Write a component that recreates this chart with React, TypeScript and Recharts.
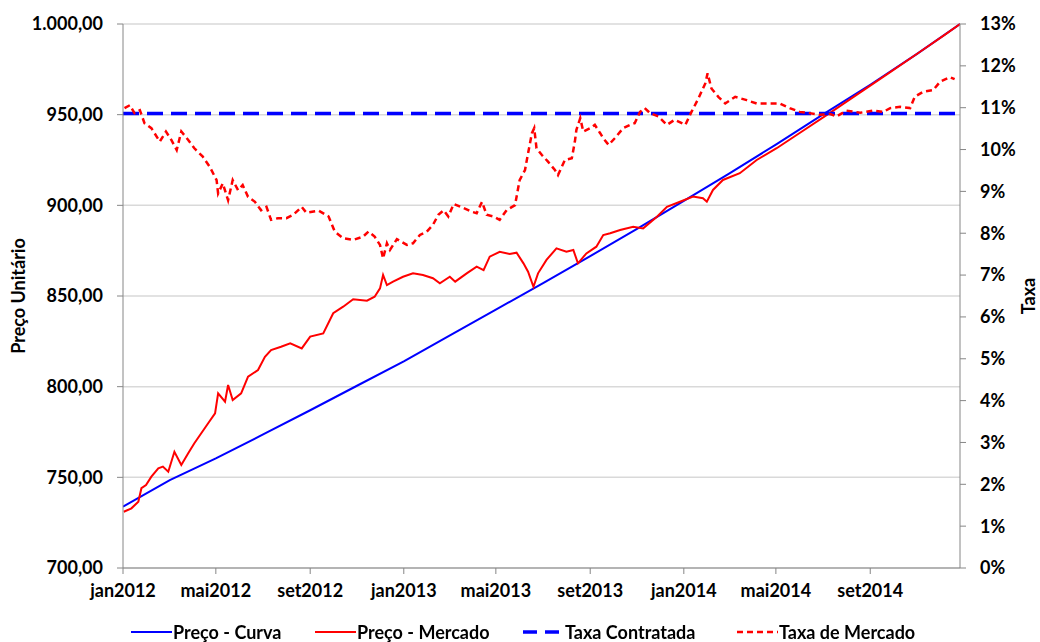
import React from 'react';
import { LineChart, Line, XAxis, YAxis, CartesianGrid, Legend } from 'recharts';

// days counted from 1 jan 2012
const tickDias = [0, 121, 244, 366, 486, 609, 731, 851, 974];
const tickMeses = ['jan2012', 'mai2012', 'set2012', 'jan2013', 'mai2013', 'set2013', 'jan2014', 'mai2014', 'set2014'];

const precoTicks = [700, 750, 800, 850, 900, 950, 1000];
const taxaTicks = [0, 1, 2, 3, 4, 5, 6, 7, 8, 9, 10, 11, 12, 13];

const curvaDias = [0, 61, 121, 182, 244, 305, 366, 425, 486, 547, 609, 670, 731, 790, 851, 912, 974, 1035, 1091];
const curvaPreco = [733.8, 748.5, 760.5, 773.5, 787, 800.5, 814, 828, 842.5, 857, 872, 887, 902.5, 917.5, 933.5, 950, 966.5, 983.5, 1000];

const mercadoDias = [
  1, 11, 20, 24, 30, 37, 46, 52, 59, 67, 76, 85, 93, 102, 111, 120, 124, 133, 137, 143,
  154, 163, 176, 185, 193, 206, 218, 233, 244, 261, 274, 287, 300, 318, 328, 335, 339, 344, 352, 365,
  378, 391, 404, 413, 426, 433, 448, 461, 470, 478, 491, 504, 513, 522, 528, 535, 541, 552, 565, 578,
  587, 593, 604, 617, 626, 635, 648, 665, 678, 696, 709, 726, 743, 756, 761, 769, 782, 804, 826, 852,
  882, 922, 961, 1000, 1039, 1071, 1091,
];
const mercadoPreco = [
  731.0, 732.9, 736.6, 744.0, 745.8, 750.4, 755.0, 755.9, 753.1, 764.1, 756.8, 763.3, 768.8, 774.3, 779.8, 785.3, 796.3, 791.7, 800.9, 792.6,
  796.3, 805.5, 809.2, 816.5, 820.2, 822.0, 823.9, 821.1, 827.6, 829.4, 840.5, 844.1, 848.2, 847.4, 849.6, 854.2, 861.6, 856.0, 857.9, 860.6,
  862.5, 861.6, 859.8, 857.0, 860.6, 857.9, 862.5, 866.2, 864.3, 871.7, 874.4, 873.2, 873.9, 868.0, 863.4, 855.1, 862.5, 869.9, 876.3, 874.4,
  875.4, 868.0, 873.5, 877.2, 883.6, 884.6, 886.4, 888.2, 887.3, 893.7, 899.2, 902.0, 904.8, 903.9, 902.0, 908.5, 914.0, 917.7, 925.0, 931.5,
  939.9, 951.1, 962.3, 973.5, 984.7, 994.0, 1000,
];

const taxaDias = [
  2, 9, 15, 22, 28, 37, 48, 56, 63, 70, 76, 85, 93, 104, 113, 122, 124, 130, 137, 143,
  150, 156, 163, 172, 180, 187, 193, 202, 213, 222, 233, 239, 255, 268, 276, 287, 300, 313, 320, 328,
  335, 339, 344, 348, 357, 370, 378, 387, 396, 404, 411, 418, 424, 431, 444, 455, 461, 468, 474, 483,
  491, 500, 511, 517, 524, 528, 533, 536, 539, 546, 554, 563, 567, 576, 585, 589, 591, 596, 600, 609,
  615, 622, 626, 633, 641, 652, 661, 667, 674, 680, 687, 698, 709, 719, 733, 741, 750, 759, 762, 767,
  776, 785, 798, 813, 826, 839, 856, 869, 882, 895, 908, 922, 930, 943, 961, 978, 991, 1000, 1013, 1026,
  1032, 1043, 1056, 1065, 1078, 1084,
];
const taxaMercado = [
  10.99, 11.06, 10.87, 10.94, 10.63, 10.51, 10.19, 10.43, 10.23, 9.99, 10.43, 10.23, 10.03, 9.83, 9.59, 9.27, 8.95, 9.19, 8.79, 9.27,
  9.03, 9.15, 8.87, 8.75, 8.55, 8.63, 8.32, 8.36, 8.36, 8.44, 8.63, 8.49, 8.54, 8.40, 8.04, 7.88, 7.84, 7.92, 8.04, 7.92,
  7.72, 7.40, 7.76, 7.60, 7.86, 7.72, 7.76, 7.96, 8.04, 8.20, 8.44, 8.55, 8.40, 8.70, 8.60, 8.51, 8.48, 8.75, 8.44, 8.40,
  8.32, 8.55, 8.67, 9.27, 9.51, 9.91, 10.39, 10.51, 10.03, 9.87, 9.71, 9.51, 9.39, 9.75, 9.79, 10.19, 10.47, 10.75, 10.43, 10.51,
  10.59, 10.39, 10.27, 10.11, 10.27, 10.51, 10.59, 10.63, 10.90, 10.99, 10.87, 10.79, 10.59, 10.71, 10.59, 10.90, 11.22, 11.58, 11.82, 11.46,
  11.26, 11.10, 11.26, 11.18, 11.10, 11.10, 11.10, 10.99, 10.90, 10.87, 10.83, 10.85, 10.79, 10.93, 10.88, 10.93, 10.90, 10.99, 11.02, 10.99,
  11.26, 11.38, 11.42, 11.62, 11.73, 11.68,
];

const taxaContratada = 10.86;
const contratadaDias = [0, 1091];

const curvaData = curvaDias.map((d, i) => ({ d, v: curvaPreco[i] }));
const mercadoData = mercadoDias.map((d, i) => ({ d, v: mercadoPreco[i] }));
const taxaData = taxaDias.map((d, i) => ({ d, v: taxaMercado[i] }));
const contratadaData = contratadaDias.map((d) => ({ d, v: taxaContratada }));

const FONT = 'Lato, "Open Sans", sans-serif';
const AXIS = '#868686';

const fmtPreco = (v: number) => {
  const int = Math.floor(v);
  const s = int >= 1000 ? `${Math.floor(int / 1000)}.${String(int % 1000).padStart(3, '0')}` : String(int);
  return `${s},00`;
};

const legendItems = [
  { label: 'Preço - Curva', color: '#0000ff', dash: '', width: 2, left: 131 },
  { label: 'Preço - Mercado', color: '#ff0000', dash: '', width: 2, left: 315 },
  { label: 'Taxa Contratada', color: '#0000ff', dash: '14 8', width: 3.5, left: 523 },
  { label: 'Taxa de Mercado', color: '#ff0000', dash: '6 4', width: 2.5, left: 737 },
];

const renderLegend = () => (
  <div style={{ position: 'relative', width: 1040, height: 30 }}>
    {legendItems.map((it) => (
      <div
        key={it.label}
        style={{ position: 'absolute', left: it.left, top: 10, display: 'flex', alignItems: 'center', whiteSpace: 'nowrap' }}
      >
        <svg width={41} height={10} style={{ display: 'block' }}>
          <line x1={0} y1={5} x2={41} y2={5} stroke={it.color} strokeWidth={it.width} strokeDasharray={it.dash || undefined} />
        </svg>
        <span style={{ fontFamily: FONT, fontWeight: 700, fontSize: 18, color: '#000', marginLeft: 1, lineHeight: '20px' }}>
          {it.label}
        </span>
      </div>
    ))}
  </div>
);

const tickStyle = { fill: '#000', fontSize: 18, fontWeight: 700, fontFamily: FONT };
const titleStyle = { fontFamily: FONT, fontWeight: 700, fontSize: 18, fill: '#000' };

export default function App() {
  return (
    <div style={{ position: 'fixed', left: 0, top: 0, width: 1040, height: 642, background: '#fff' }}>
      <LineChart width={1040} height={642} margin={{ top: 24, right: 0, bottom: 0, left: 0 }} style={{ fontFamily: FONT }}>
        <CartesianGrid yAxisId="preco" vertical={false} stroke="#d9d9d9" strokeWidth={1.5} />
        <XAxis
          dataKey="d"
          type="number"
          domain={[0, 1091]}
          ticks={tickDias}
          tickFormatter={(v: number) => tickMeses[tickDias.indexOf(v)]}
          height={44}
          stroke={AXIS}
          tickSize={6}
          tickMargin={10}
          tick={tickStyle}
          allowDataOverflow
        />
        <YAxis
          yAxisId="preco"
          domain={[700, 1000]}
          ticks={precoTicks}
          tickFormatter={fmtPreco}
          width={123}
          stroke={AXIS}
          tickSize={6}
          tickMargin={14}
          tick={tickStyle}
          label={{ value: 'Preço Unitário', angle: -90, position: 'center', dx: -43, style: titleStyle }}
        />
        <YAxis
          yAxisId="taxa"
          orientation="right"
          domain={[0, 13]}
          ticks={taxaTicks}
          tickFormatter={(v: number) => `${v}%`}
          width={80}
          stroke={AXIS}
          tickSize={6}
          tickMargin={14}
          tick={tickStyle}
          label={{ value: 'Taxa', angle: -90, position: 'center', dx: 29, style: titleStyle }}
        />
        <Legend verticalAlign="bottom" content={renderLegend} wrapperStyle={{ left: 0, bottom: 0, width: 1040, height: 30 }} />
        <Line yAxisId="preco" data={curvaData} dataKey="v" name="Preço - Curva" stroke="#0000ff" strokeWidth={2} dot={false} isAnimationActive={false} />
        <Line yAxisId="preco" data={mercadoData} dataKey="v" name="Preço - Mercado" stroke="#ff0000" strokeWidth={2} dot={false} isAnimationActive={false} />
        <Line yAxisId="taxa" data={contratadaData} dataKey="v" name="Taxa Contratada" stroke="#0000ff" strokeWidth={3.5} strokeDasharray="16 8" dot={false} isAnimationActive={false} />
        <Line yAxisId="taxa" data={taxaData} dataKey="v" name="Taxa de Mercado" stroke="#ff0000" strokeWidth={2.5} strokeDasharray="6 4" dot={false} isAnimationActive={false} />
      </LineChart>
    </div>
  );
}
